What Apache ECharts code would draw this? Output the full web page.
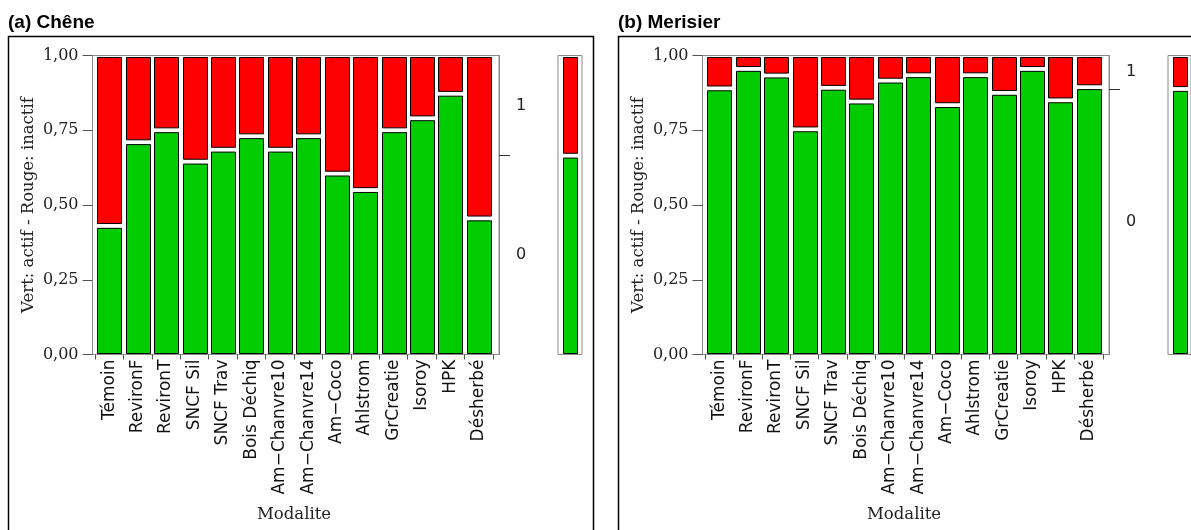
<!DOCTYPE html>
<html>
<head>
<meta charset="utf-8">
<script src="https://cdn.jsdelivr.net/npm/echarts@6/dist/echarts.min.js"></script>
<style>
  html, body { margin: 0; padding: 0; background: #ffffff; }
  #chart { width: 1191px; height: 530px; }
</style>
</head>
<body>
<div id="chart"></div>
<script>
// Modalities (treatments), shared by both species
const categories = ['Témoin', 'RevironF', 'RevironT', 'SNCF Sil', 'SNCF Trav', 'Bois Déchiq',
  'Am−Chanvre10', 'Am−Chanvre14', 'Am−Coco', 'Ahlstrom', 'GrCreatie', 'Isoroy', 'HPK', 'Désherbé'];

// Share of level 0 (green, actif) per modality; the rest up to 1 is level 1 (red, inactif)
const cheneActif    = [0.43, 0.71, 0.75, 0.645, 0.685, 0.73, 0.685, 0.73, 0.605, 0.55, 0.75, 0.79, 0.872, 0.455];
const merisierActif = [0.89, 0.955, 0.933, 0.753, 0.892, 0.846, 0.916, 0.934, 0.834, 0.934, 0.875, 0.955, 0.85, 0.894];

// Share of level 0 over all modalities (marginal bar)
const cheneOverall = 0.665;
const merisierOverall = 0.888;

// Response levels, bottom to top
const levels = ['0', '1'];

// Left axis tick labels (0 to 1 by 0.25)
const yTickLabels = ['0,00', '0,25', '0,50', '0,75', '1,00'];

const panelTitles = ['(a) Chêne', '(b) Merisier'];
const yTitle = 'Vert: actif - Rouge: inactif';
const xTitle = 'Modalite';

const GREEN = '#00cc00';
const RED = '#ff0000';
const FRAME = '#8a8a8a';

const panels = [
  { title: panelTitles[0], actif: cheneActif, overall: cheneOverall, dx: 0 },
  { title: panelTitles[1], actif: merisierActif, overall: merisierOverall, dx: 610 }
];

// Two stacked segments per column, separated by a thin white gap
function stackRenderer(barWidth) {
  return function (params, api) {
    const i = api.value(0);
    const p = api.value(1);
    const base = api.coord([i, 0]);
    const mid = api.coord([i, p]);
    const top = api.coord([i, 1]);
    const gap = 2.4;
    const x = Math.round(base[0] - barWidth / 2) + 0.5;
    const redTop = Math.round(top[1]) + 1.5;
    const redBottom = mid[1] - gap;
    const greenTop = mid[1] + gap;
    const greenBottom = Math.round(base[1]) - 1.5;
    return {
      type: 'group',
      children: [
        { type: 'rect', shape: { x: x, y: redTop, width: barWidth, height: redBottom - redTop },
          style: { fill: RED, stroke: '#000', lineWidth: 1 } },
        { type: 'rect', shape: { x: x, y: greenTop, width: barWidth, height: greenBottom - greenTop },
          style: { fill: GREEN, stroke: '#000', lineWidth: 1 } }
      ]
    };
  };
}

const grid = [], xAxis = [], yAxis = [], series = [], graphic = [];

panels.forEach(function (pn) {
  const top = 55.5, height = 299;

  // panel frame and heading
  graphic.push({
    type: 'rect', shape: { x: 8.5 + pn.dx, y: 36.5, width: 585, height: 520 },
    style: { fill: null, stroke: '#000', lineWidth: 1.5 }, z: 0, silent: true
  });
  graphic.push({
    type: 'text', left: 8 + pn.dx, top: 13,
    style: { text: pn.title, fill: '#000', font: 'bold 19px "Liberation Sans", Arial, sans-serif' }
  });

  // plot frame with the value axes
  const gFrame = grid.length;
  grid.push({ left: 92.5 + pn.dx, top: top, width: 406.5, height: height, show: true,
    borderColor: FRAME, borderWidth: 1, backgroundColor: '#ffffff' });
  xAxis.push({ gridIndex: gFrame, type: 'value', min: 0, max: 1, show: false });
  yAxis.push({
    gridIndex: gFrame, type: 'value', min: 0, max: 1, interval: 0.25, position: 'left',
    axisLine: { show: true, lineStyle: { color: FRAME, width: 1 } },
    axisTick: { show: true, length: 10, lineStyle: { color: '#555' } },
    axisLabel: { margin: 14, color: '#222', fontFamily: '"DejaVu Serif", serif', fontSize: 16,
      formatter: function (v) { return yTickLabels[Math.round(v / 0.25)]; } },
    splitLine: { show: false },
    name: yTitle, nameLocation: 'middle', nameGap: 55,
    nameTextStyle: { color: '#222', fontFamily: '"DejaVu Serif", serif', fontSize: 16.5 }
  });
  yAxis.push({
    gridIndex: gFrame, type: 'value', min: 0, max: 1, position: 'right',
    axisLine: { show: true, lineStyle: { color: FRAME, width: 1 } },
    axisTick: { show: true, length: 11, customValues: [pn.overall], lineStyle: { color: '#333' } },
    axisLabel: { margin: 17, color: '#222', fontFamily: '"DejaVu Sans", sans-serif', fontSize: 16,
      customValues: [pn.overall / 2, (1 + pn.overall) / 2],
      formatter: function (v) { return v < pn.overall ? levels[0] : levels[1]; } },
    splitLine: { show: false }
  });

  // columns
  const gBars = grid.length;
  grid.push({ left: 95 + pn.dx, top: top, width: 398, height: height });
  const xBars = xAxis.length;
  xAxis.push({
    gridIndex: gBars, type: 'category', data: categories, position: 'bottom',
    axisLine: { show: true, lineStyle: { color: FRAME } },
    axisTick: { show: true, length: 5, interval: 0, lineStyle: { color: '#555' } },
    axisLabel: { rotate: 90, interval: 0, margin: 5, color: '#111',
      fontFamily: '"DejaVu Sans", sans-serif', fontSize: 17 },
    name: xTitle, nameLocation: 'middle', nameGap: 152,
    nameTextStyle: { color: '#222', fontFamily: '"DejaVu Serif", serif', fontSize: 16.5 }
  });
  const yBars = yAxis.length;
  yAxis.push({ gridIndex: gBars, type: 'value', min: 0, max: 1, show: false });
  series.push({
    type: 'custom', xAxisIndex: xBars, yAxisIndex: yBars,
    data: pn.actif.map(function (p, i) { return [i, p]; }),
    renderItem: stackRenderer(24)
  });

  // marginal column
  const gMarg = grid.length;
  grid.push({ left: 558 + pn.dx, top: top, width: 24, height: height, show: true,
    borderColor: FRAME, borderWidth: 1, backgroundColor: '#ffffff' });
  const xMarg = xAxis.length;
  xAxis.push({ gridIndex: gMarg, type: 'category', data: ['all'], show: false });
  const yMarg = yAxis.length;
  yAxis.push({ gridIndex: gMarg, type: 'value', min: 0, max: 1, show: false });
  series.push({
    type: 'custom', xAxisIndex: xMarg, yAxisIndex: yMarg,
    data: [[0, pn.overall]],
    renderItem: stackRenderer(14)
  });
});

const chart = echarts.init(document.getElementById('chart'), null, { renderer: 'canvas' });
chart.setOption({
  animation: false,
  backgroundColor: '#ffffff',
  grid: grid,
  xAxis: xAxis,
  yAxis: yAxis,
  series: series,
  graphic: graphic
});
</script>
</body>
</html>
